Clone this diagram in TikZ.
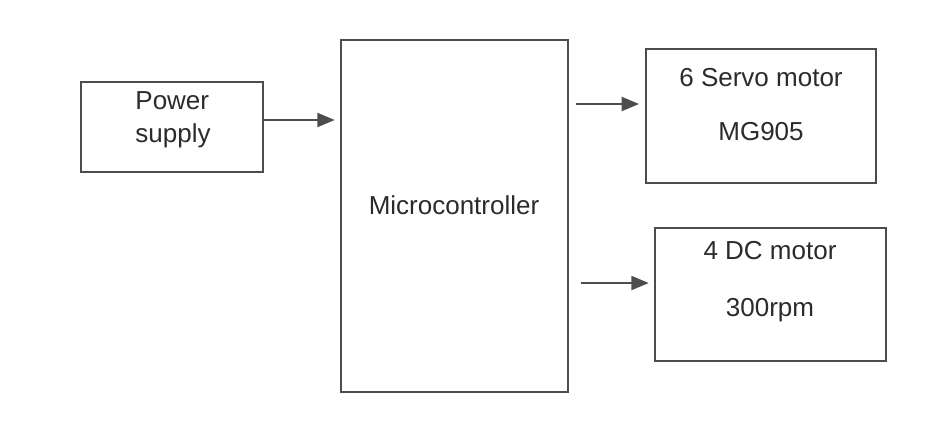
\documentclass[tikz,border=0pt]{standalone}
\usepackage{fontspec}
\setmainfont{Liberation Sans}
\usetikzlibrary{positioning, arrows.meta}
\definecolor{color_line}{HTML}{4D4D4D}
\definecolor{color_text}{HTML}{2B2B2B}
\tikzset{
  block_box/.style={draw=color_line, line width=1.4pt, fill=white, inner sep=0pt},
  block_label/.style={font=\fontsize{19.5}{25}\selectfont, text=color_text, align=center, inner sep=0pt},
  block_arrow/.style={-{Triangle[length=13pt, width=10.5pt]}, draw=color_line, fill=color_line, line width=1.4pt},
}
\begin{document}
\begin{tikzpicture}[x=0.75pt, y=-0.75pt]
    \useasboundingbox (0,0) rectangle (939,424);
    % blocks
    \node[block_box, minimum width=136.5pt, minimum height=67.5pt] (power) at (172,127) {};
    \node[block_box, minimum width=170.25pt, minimum height=264pt] (micro) at (454.5,216) {};
    \node[block_box, minimum width=172.5pt, minimum height=100.5pt] (servo) at (761,116) {};
    \node[block_box, minimum width=173.25pt, minimum height=99.75pt] (dc) at (770.5,294.5) {};
    % texts
    \node[block_label, align=left] (power_text) at (173,120) {Power\\supply};
    \node[block_label] (micro_text) at (454,205) {Microcontroller};
    \node[block_label, font=\fontsize{19.5}{41}\selectfont] (servo_text) at (761,104.5) {6 Servo motor\\MG905};
    \node[block_label, font=\fontsize{19.5}{43}\selectfont] (dc_text) at (770,281.5) {4 DC motor\\300rpm};
    % arrows
    \draw[block_arrow, shorten >=4pt] ([yshift=5.25pt]power.east) -- ([yshift=5.25pt]power.east -| micro.west);
    \draw[block_arrow, shorten <=5pt, shorten >=4.5pt] ([yshift=9pt]servo.west -| micro.east) -- ([yshift=9pt]servo.west);
    \draw[block_arrow, shorten <=9pt, shorten >=4pt] ([yshift=8.6pt]dc.west -| micro.east) -- ([yshift=8.6pt]dc.west);
\end{tikzpicture}
\end{document}
